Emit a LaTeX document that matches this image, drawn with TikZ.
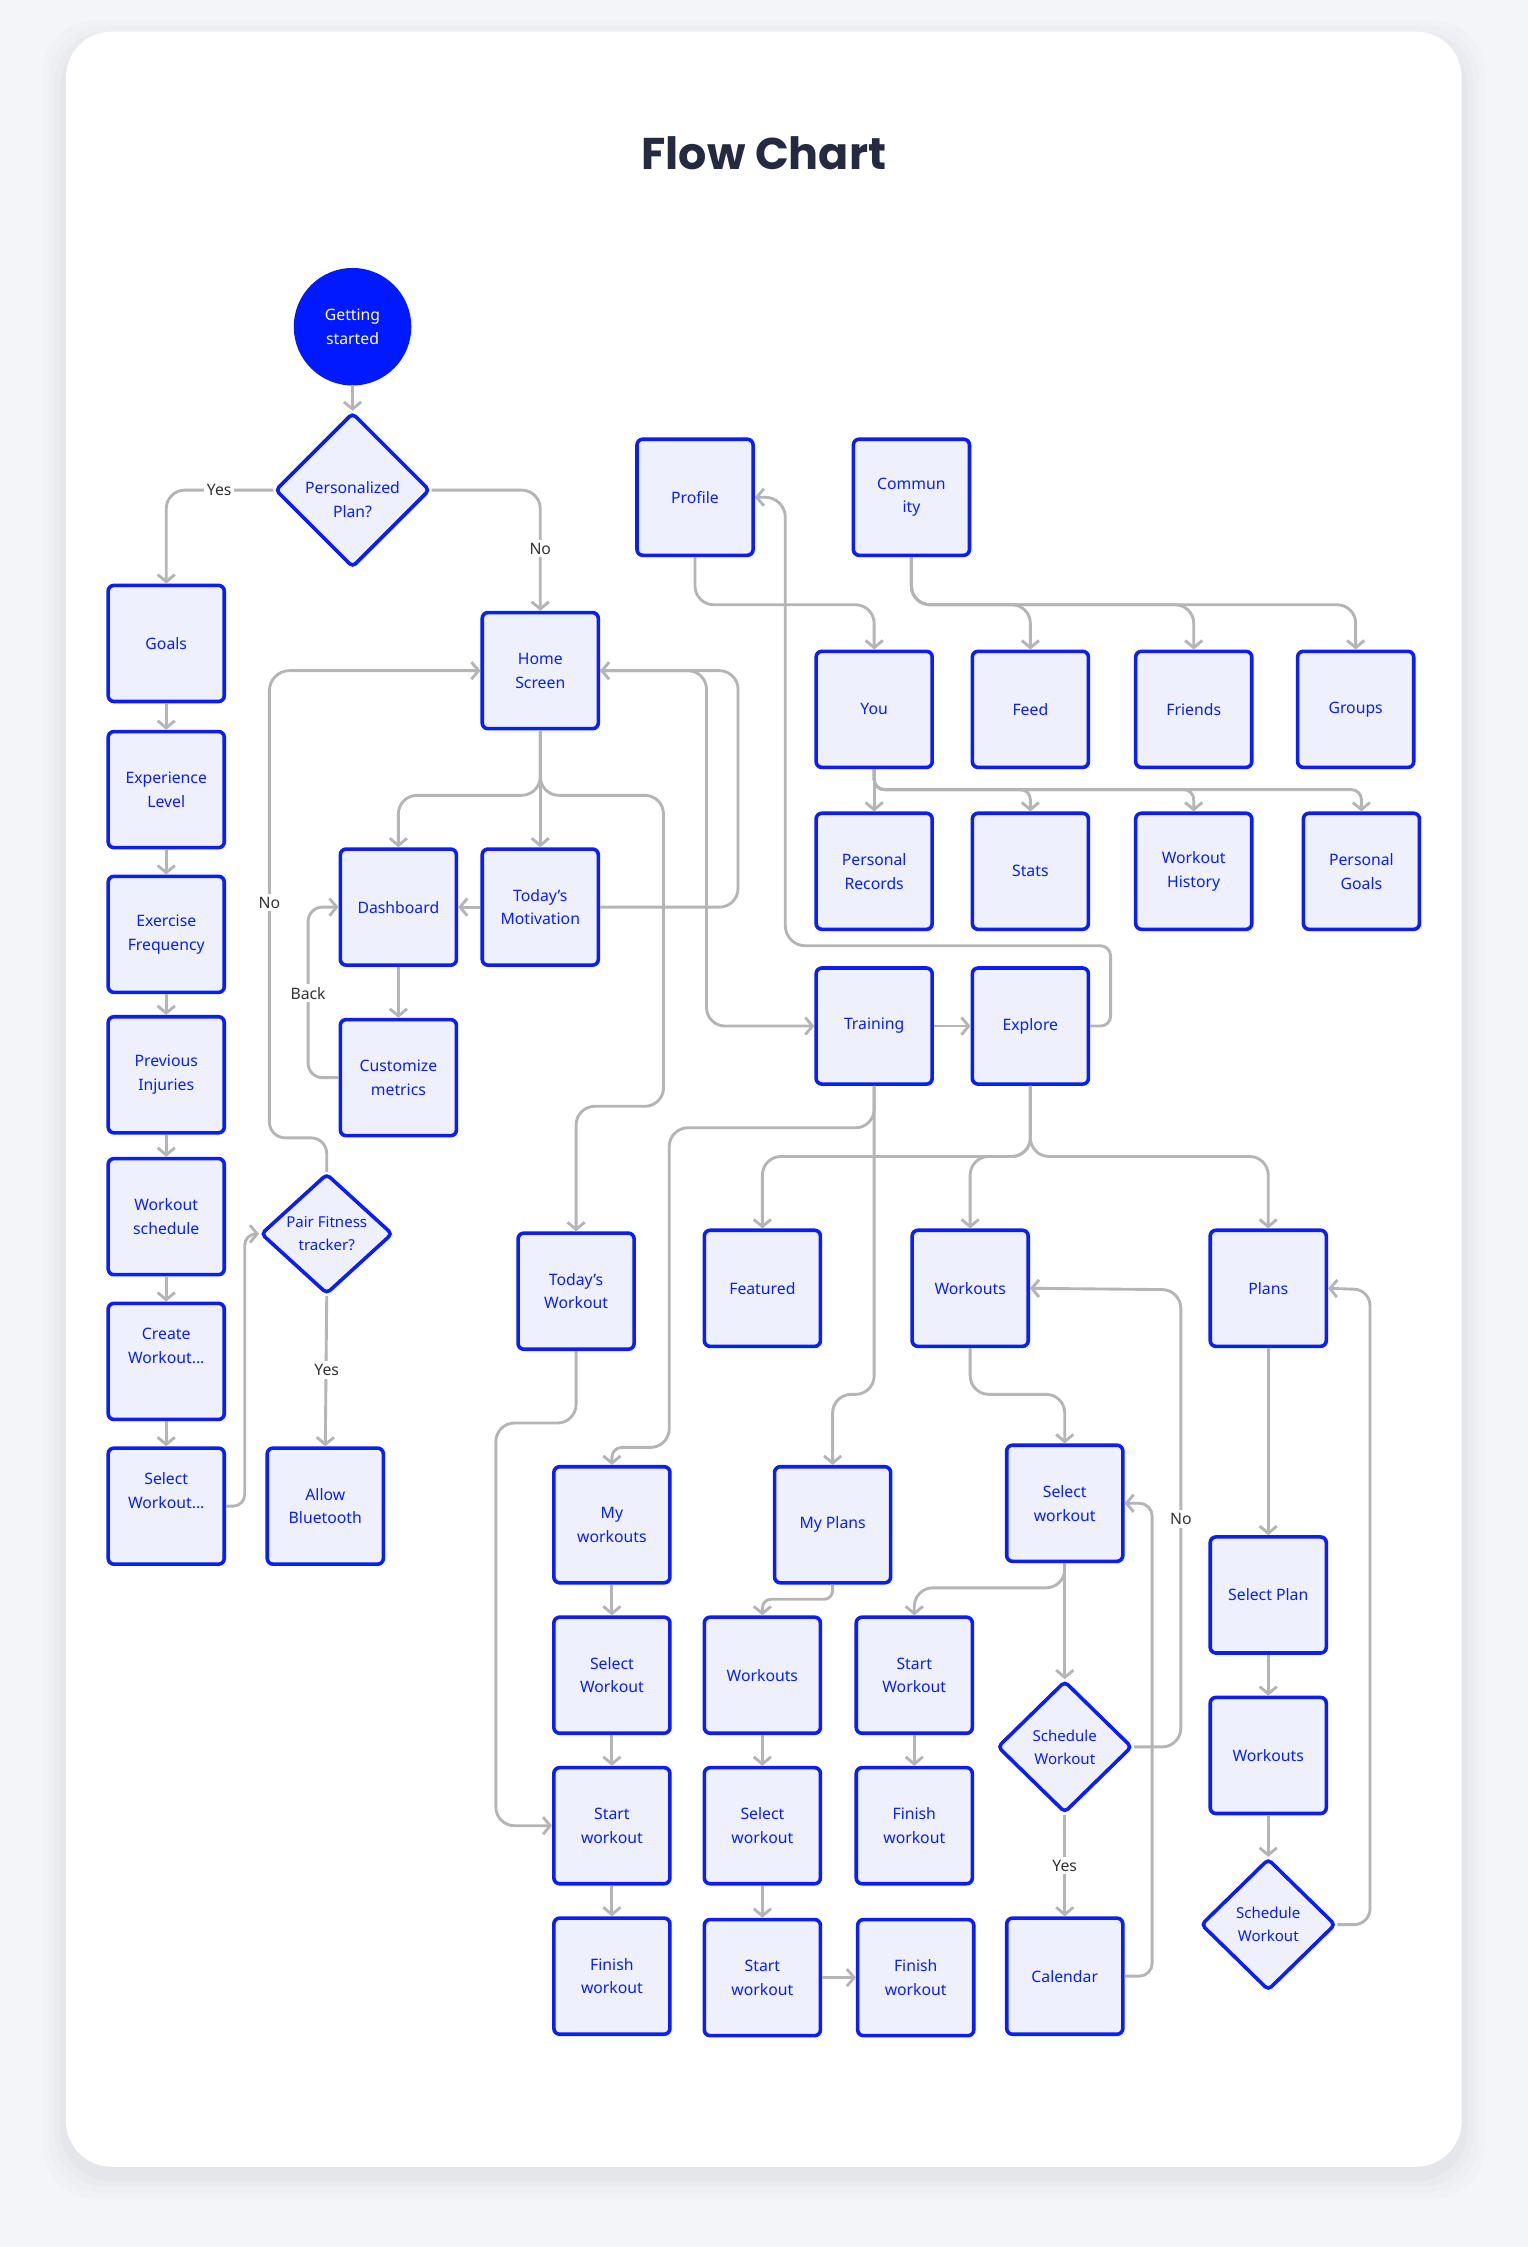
\documentclass[tikz,border=0pt]{standalone}
\usepackage{fontspec}
\setmainfont{Noto Sans}
\newfontfamily\titlefont{Poppins}
\usetikzlibrary{arrows.meta,shapes.geometric,calc}
\definecolor{bgc}{HTML}{F4F5F8}
\definecolor{bblue}{HTML}{0A1EF5}
\definecolor{sblue}{HTML}{0019FF}
\definecolor{bfill}{HTML}{EEF1FD}
\definecolor{lgray}{HTML}{B5B5B5}
\definecolor{ttl}{HTML}{252A41}
\definecolor{lbltxt}{HTML}{333333}
\tikzset{
  box/.style={draw=bblue, fill=bfill, line width=2.5pt, rounded corners=4pt,
    minimum width=81pt, minimum height=81pt, inner sep=2pt, align=center,
    text=bblue, font=\fontsize{11}{16.5}\selectfont},
  dec/.style={diamond, draw=bblue, fill=bfill, line width=2.5pt, rounded corners=3pt,
    inner sep=0pt, align=center, text=bblue, font=\fontsize{11}{16.5}\selectfont},
  startnode/.style={circle, fill=sblue, minimum size=82pt, inner sep=0pt, align=center,
    text=white, font=\fontsize{11}{16.5}\selectfont},
  conn/.style={draw=lgray, line width=2pt, rounded corners=13pt,
    -{Straight Barb[length=5pt,width=12pt]}},
  lbl/.style={fill=white, text=lbltxt, font=\fontsize{11}{13}\selectfont, inner sep=2pt},
}
\begin{document}
\begin{tikzpicture}[x=1pt,y=-1pt]
\useasboundingbox (0,0) rectangle (1066,1568);
\fill[bgc] (0,0) rectangle (1066,1568);
\foreach \i/\o in {16/0.010,12/0.012,8/0.016,4/0.02}{
  \fill[black,opacity=\o,rounded corners=36pt] (46-\i,22-\i+8) rectangle (1020+\i,1512+\i+6);}
\fill[white,rounded corners=32pt] (46,22) rectangle (1020,1512);

\node[font=\titlefont\bfseries\fontsize{31}{36}\selectfont, text=ttl] (title) at (533,107) {Flow Chart};

% nodes
\node[startnode] (gs) at (246,228) {Getting\\started};
\node[dec, minimum width=108pt, minimum height=108pt] (pp) at (246,342) {\rule{0pt}{22pt}Personalized\\Plan?};
\node[box] (goals) at (116,449) {Goals};
\node[box] (exp) at (116,551) {Experience\\Level};
\node[box] (freq) at (116,652) {Exercise\\Frequency};
\node[box] (inj) at (116,750) {Previous\\Injuries};
\node[box] (wsch) at (116,849) {Workout\\schedule};
\node[box] (create) at (116,950) {Create\\Workout...\\\strut};
\node[box] (selw) at (116,1051) {Select\\Workout...\\\strut};
\node[dec, minimum width=92pt, minimum height=84pt, font=\fontsize{10.5}{16}\selectfont] (pair) at (228,861) {Pair Fitness\\tracker?};
\node[box] (bt) at (227,1051) {Allow\\Bluetooth};
\node[box] (home) at (377,468) {Home\\Screen};
\node[box] (dash) at (278,633) {Dashboard};
\node[box] (mot) at (377,633) {Today’s\\Motivation};
\node[box] (cust) at (278,752) {Customize\\metrics};
\node[box] (prof) at (485,347) {Profile};
\node[box] (comm) at (636,347) {Commun\\ity};
\node[box] (you) at (610,495) {You};
\node[box] (feed) at (719,495) {Feed};
\node[box] (friends) at (833,495) {Friends};
\node[box] (groups) at (946,495) {Groups};
\node[box] (prec) at (610,608) {Personal\\Records};
\node[box] (stats) at (719,608) {Stats};
\node[box] (hist) at (833,608) {Workout\\History};
\node[box] (pgoals) at (950,608) {Personal\\Goals};
\node[box] (train) at (610,716) {Training};
\node[box] (expl) at (719,716) {Explore};
\node[box] (tw) at (402,901) {Today’s\\Workout};
\node[box] (feat) at (532,899) {Featured};
\node[box] (wo) at (677,899) {Workouts};
\node[box] (plans) at (885,899) {Plans};
\node[box] (mw) at (427,1064) {My\\workouts};
\node[box] (mp) at (581,1064) {My Plans};
\node[box] (selw2) at (743,1049) {Select\\workout};
\node[box] (selplan) at (885,1113) {Select Plan};
\node[box] (sw1) at (427,1169) {Select\\Workout};
\node[box] (wo2) at (532,1169) {Workouts};
\node[box] (stw3) at (638,1169) {Start\\Workout};
\node[dec, minimum width=94pt, minimum height=92pt, font=\fontsize{10.5}{16}\selectfont] (sched) at (743,1219) {Schedule\\Workout};
\node[box] (wo3) at (885,1225) {Workouts};
\node[box] (stw1) at (427,1274) {Start\\workout};
\node[box] (slw2) at (532,1274) {Select\\workout};
\node[box] (fw3) at (638,1274) {Finish\\workout};
\node[box] (cal) at (743,1379) {Calendar};
\node[dec, minimum width=94pt, minimum height=92pt, font=\fontsize{10.5}{16}\selectfont] (sched2) at (885,1343) {Schedule\\Workout};
\node[box] (fw1) at (427,1379) {Finish\\workout};
\node[box] (stw2) at (532,1380) {Start\\workout};
\node[box] (fw4) at (639,1380) {Finish\\workout};

% connectors
\draw[conn] (gs.south) -- (pp.north);
\draw[conn] (pp.west) -| (goals.north);
\draw[conn] (pp.east) -| (home.north);
\foreach \a/\b in {goals/exp,exp/freq,freq/inj,inj/wsch,wsch/create,create/selw,
  dash/cust,you/prec,plans/selplan,selplan/wo3,wo3/sched2,mw/sw1,sw1/stw1,stw1/fw1,
  wo2/slw2,slw2/stw2,stw3/fw3,pair/bt,sched/cal,selw2/sched,home/mot}
  \draw[conn] (\a.south) -- (\b.north);
\draw[conn, rounded corners=8pt] (selw.east) -- ++(13,0) |- (pair.west);
\draw[conn, rounded corners=11pt] (pair.north) |- (188,794) [rounded corners=14pt] |- (home.west);
\coordinate (hs) at (377,555);
\draw[conn] (home.south) -- (hs) -| (dash.north);
\draw[conn] (home.south) -- (hs) -| (463,772) -| (tw.north);
\draw[conn] (mot.west) -- (dash.east);
\draw[conn] (mot.east) -| (515,468) -- (home.east);
\draw[conn] (home.east) -| (493,716) -- (train.west);
\draw[conn, rounded corners=10pt] (cust.west) -| (215,633) -- (dash.west);
\draw[conn] (train.east) -- (expl.west);
\draw[conn, rounded corners=7pt] (expl.east) -| (775,660) [rounded corners=14pt] -| (548,347) -- (prof.east);
\draw[conn] (prof.south) -- (485,422) -| (you.north);
\coordinate (cs) at (636,422);
\draw[conn] (comm.south) -- (cs) -| (feed.north);
\draw[conn] (comm.south) -- (cs) -| (friends.north);
\draw[conn] (comm.south) -- (cs) -| (groups.north);
\coordinate (ys) at (610,551);
\draw[conn, rounded corners=7pt] (you.south) -- (ys) -| (stats.north);
\draw[conn, rounded corners=7pt] (you.south) -- (ys) -| (hist.north);
\draw[conn, rounded corners=7pt] (you.south) -- (ys) -| (pgoals.north);
\draw[conn] (train.south) -- (610,787) -| (467,1010) [rounded corners=7pt] -| (mw.north);
\draw[conn] (train.south) -- (610,973) -| (mp.north);
\coordinate (es) at (719,807);
\draw[conn] (expl.south) -- (es) -| (feat.north);
\draw[conn] (expl.south) -- (es) -| (wo.north);
\draw[conn] (expl.south) -- (es) -| (plans.north);
\draw[conn] (tw.south) -- (402,993) -| (346,1274) -- (stw1.west);
\draw[conn] (wo.south) -- (677,973) -| (selw2.north);
\draw[conn] (selw2.south) -- (743,1108) -| (stw3.north);
\draw[conn] (sched.east) -| (824,900) -- (wo.east);
\draw[conn, rounded corners=9pt] (cal.east) -| (804,1049) -- (selw2.east);
\draw[conn, rounded corners=11pt] (sched2.east) -| (956,900) -- (plans.east);
\draw[conn, rounded corners=6pt] (mp.south) -- (581,1116) -| (wo2.north);
\draw[conn] (stw2.east) -- (fw4.west);

% labels
\node[lbl] (l1) at (153,342) {Yes};
\node[lbl] (l2) at (377,383) {No};
\node[lbl] (l3) at (188,630) {No};
\node[lbl] (l4) at (215,693) {Back};
\node[lbl] (l5) at (228,956) {Yes};
\node[lbl] (l6) at (824,1060) {No};
\node[lbl] (l7) at (743,1302) {Yes};
\end{tikzpicture}
\end{document}
